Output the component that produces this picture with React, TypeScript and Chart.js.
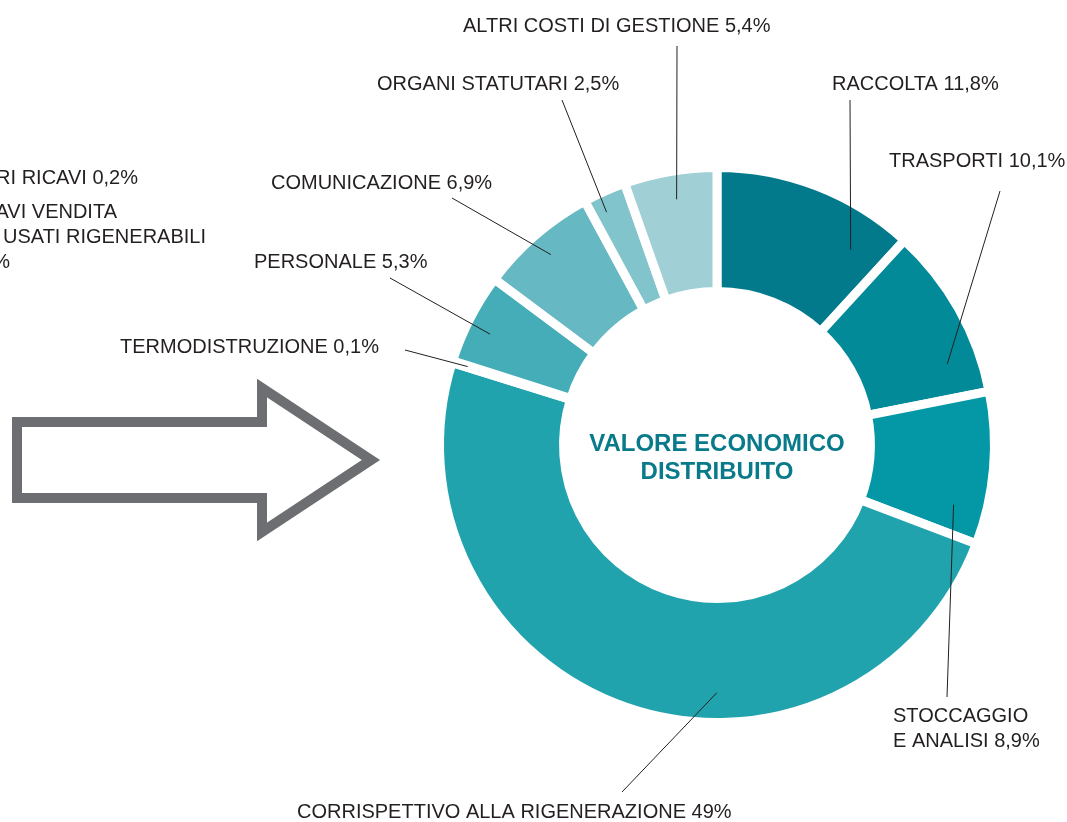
import React, { useEffect, useRef } from "react";
import { Chart, registerables } from "chart.js";

Chart.register(...registerables);

// ---- data ----
const categories = [
  "RACCOLTA",
  "TRASPORTI",
  "STOCCAGGIO E ANALISI",
  "CORRISPETTIVO ALLA RIGENERAZIONE",
  "TERMODISTRUZIONE",
  "PERSONALE",
  "COMUNICAZIONE",
  "ORGANI STATUTARI",
  "ALTRI COSTI DI GESTIONE",
];
const values = [11.8, 10.1, 8.9, 49, 0.1, 5.3, 6.9, 2.5, 5.4];
const valueLabels = ["11,8%", "10,1%", "8,9%", "49%", "0,1%", "5,3%", "6,9%", "2,5%", "5,4%"];
const colors = [
  "#037A8C",
  "#028A99",
  "#0497A5",
  "#21A3AD",
  "#2FA8B1",
  "#44ADB7",
  "#66B9C2",
  "#81C4CB",
  "#A0CFD6",
];
const centerTitle = ["VALORE ECONOMICO", "DISTRIBUITO"];
// clipped labels of the neighbouring chart (left edge)
const leftLabels = ["ALTRI RICAVI 0,2%", "RICAVI VENDITA", "PNEUMATICI USATI RIGENERABILI", "99,8%"];

// ---- layout of annotations (positions only) ----
const labelLayout = [
  { lines: ["RACCOLTA 11,8%"], x: 832, y: 90, sx: 850, sy: 100, af: 0.81, rf: 0.67 },
  { lines: ["TRASPORTI 10,1%"], x: 889, y: 167, sx: 1000, sy: 191, af: 0.775, rf: 0.73 },
  { lines: ["STOCCAGGIO", "E ANALISI 8,9%"], x: 893, y: 722, sx: 947, sy: 697, af: 0.79, rf: 0.73 },
  { lines: ["CORRISPETTIVO ALLA RIGENERAZIONE 49%"], x: 297, y: 818, sx: 622, sy: 792, af: 0.392, rf: 0.76 },
  { lines: ["TERMODISTRUZIONE 0,1%"], x: 120, y: 353, sx: 405, sy: 350, af: 0.5, rf: 0.87 },
  { lines: ["PERSONALE 5,3%"], x: 254, y: 268, sx: 390, sy: 278, af: 0.44, rf: 0.8 },
  { lines: ["COMUNICAZIONE 6,9%"], x: 271, y: 189, sx: 452, sy: 198, af: 0.49, rf: 0.8 },
  { lines: ["ORGANI STATUTARI 2,5%"], x: 377, y: 90, sx: 562, sy: 100, af: 0.34, rf: 0.84 },
  { lines: ["ALTRI COSTI DI GESTIONE 5,4%"], x: 463, y: 32, sx: 677, sy: 46, af: 0.52, rf: 0.77 },
];

const FONT = "20px 'Liberation Sans', Arial, sans-serif";
const TEXT = "#231F20";

const annotPlugin = {
  id: "annot",
  afterDatasetsDraw(chart: any) {
    const ctx = chart.ctx;
    const meta = chart.getDatasetMeta(0);
    ctx.save();
    ctx.font = FONT;
    ctx.fillStyle = TEXT;
    ctx.strokeStyle = TEXT;
    ctx.lineWidth = 1;
    ctx.textAlign = "left";
    ctx.textBaseline = "alphabetic";
    labelLayout.forEach((l, i) => {
      const arc = meta.data[i] as any;
      if (!arc) return;
      const a = arc.startAngle + l.af * (arc.endAngle - arc.startAngle);
      const r = arc.innerRadius + l.rf * (arc.outerRadius - arc.innerRadius);
      const ex = arc.x + r * Math.cos(a);
      const ey = arc.y + r * Math.sin(a);
      ctx.beginPath();
      ctx.moveTo(l.sx, l.sy);
      ctx.lineTo(ex, ey);
      ctx.stroke();
      l.lines.forEach((t, k) => ctx.fillText(t, l.x, l.y + k * 25));
    });
    // clipped labels on left
    ctx.textAlign = "right";
    const lx = [138, 117, 206, 10];
    const ly = [184, 218, 243, 268];
    leftLabels.forEach((t, k) => ctx.fillText(t, lx[k], ly[k]));
    // centre title
    const c = meta.data[0] as any;
    ctx.font = "bold 24px 'Liberation Sans', Arial, sans-serif";
    ctx.fillStyle = "#087A8A";
    ctx.textAlign = "center";
    ctx.textBaseline = "middle";
    ctx.fillText(centerTitle[0], c.x, c.y - 1);
    ctx.fillText(centerTitle[1], c.x, c.y + 27);
    // arrow outline
    ctx.strokeStyle = "#6D6E71";
    ctx.lineWidth = 10;
    ctx.lineJoin = "miter";
    ctx.miterLimit = 10;
    ctx.beginPath();
    ctx.moveTo(17, 422);
    ctx.lineTo(262, 422);
    ctx.lineTo(262, 388);
    ctx.lineTo(371, 460);
    ctx.lineTo(262, 532);
    ctx.lineTo(262, 498);
    ctx.lineTo(17, 498);
    ctx.closePath();
    ctx.stroke();
    ctx.restore();
  },
};

export default function App() {
  const ref = useRef<HTMLCanvasElement>(null);
  useEffect(() => {
    if (!ref.current) return;
    const chart = new Chart(ref.current, {
      type: "doughnut",
      data: {
        labels: categories,
        datasets: [
          {
            data: values,
            backgroundColor: colors,
            borderColor: "#ffffff",
            borderWidth: 9,
            borderJoinStyle: "miter",
            hoverOffset: 0,
          } as any,
        ],
      },
      options: {
        animation: false,
        responsive: false,
        maintainAspectRatio: false,
        radius: 277.5,
        cutout: "55.3%",
        layout: { padding: { left: 417, right: 50, top: 145, bottom: 77 } },
        plugins: {
          legend: { display: false },
          tooltip: { enabled: false },
          title: { display: false },
        },
        events: [],
      } as any,
      plugins: [annotPlugin],
    });
    return () => chart.destroy();
  }, []);
  return (
    <div style={{ position: "absolute", left: 0, top: 0, width: 1067, height: 822, background: "#fff" }}>
      <canvas ref={ref} width={1067} height={822} style={{ width: 1067, height: 822, display: "block" }} />
    </div>
  );
}
